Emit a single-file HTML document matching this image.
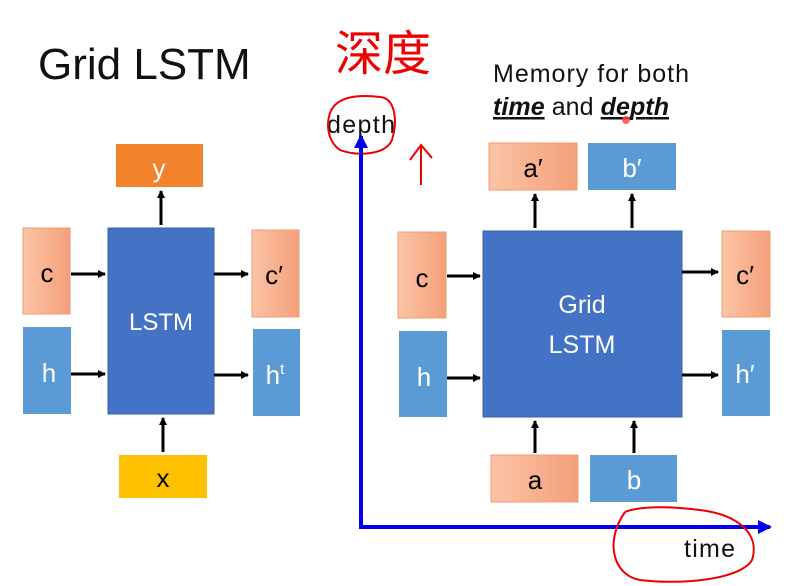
<!DOCTYPE html>
<html><head><style>body{margin:0;background:#fff}svg{display:block}</style></head><body>
<svg width="796" height="586" viewBox="0 0 796 586" xmlns="http://www.w3.org/2000/svg" font-family="Liberation Sans, sans-serif">
<defs>
<marker id="ar" markerWidth="8" markerHeight="8" refX="7" refY="4" orient="auto" markerUnits="userSpaceOnUse"><path d="M0,0 L8,4 L0,8 z" fill="#000"/></marker>
<marker id="bl" markerWidth="14" markerHeight="14" refX="12" refY="7" orient="auto" markerUnits="userSpaceOnUse"><path d="M0,0 L14,7 L0,14 z" fill="#0000ee"/></marker>
<linearGradient id="pk" x1="0" x2="1"><stop offset="0" stop-color="#fbc4a6"/><stop offset="1" stop-color="#f4a07a"/></linearGradient>
</defs>
<text x="38" y="79" font-size="44" fill="#111">Grid LSTM</text>
<!-- left -->
<rect x="116" y="144" width="87" height="43" fill="#f3822c"/>
<text x="159" y="177" font-size="26" fill="#fff" text-anchor="middle">y</text>
<rect x="108" y="228" width="106" height="186" fill="#4472c4" stroke="#3a62aa"/>
<text x="161" y="330" font-size="24" fill="#fff" text-anchor="middle">LSTM</text>
<rect x="23" y="228" width="47" height="86" fill="url(#pk)" stroke="#ed9c76"/>
<text x="47" y="282" font-size="26" text-anchor="middle">c</text>
<rect x="23" y="327" width="48" height="87" fill="#5b9bd5"/>
<text x="49" y="382" font-size="26" fill="#fff" text-anchor="middle">h</text>
<rect x="252" y="230" width="47" height="87" fill="url(#pk)" stroke="#ed9c76"/>
<text x="274" y="284" font-size="26" text-anchor="middle">c′</text>
<rect x="253" y="329" width="47" height="87" fill="#5b9bd5"/>
<text x="275" y="384" font-size="26" fill="#fff" text-anchor="middle">h<tspan font-size="15" dy="-10">t</tspan></text>
<rect x="119" y="455" width="88" height="43" fill="#ffc000"/>
<text x="163" y="487" font-size="26" text-anchor="middle">x</text>
<g stroke="#000" stroke-width="3">
<line x1="161" y1="225" x2="161" y2="191" marker-end="url(#ar)"/>
<line x1="163" y1="452" x2="163" y2="418" marker-end="url(#ar)"/>
<line x1="71" y1="274" x2="105" y2="274" marker-end="url(#ar)"/>
<line x1="71" y1="374" x2="105" y2="374" marker-end="url(#ar)"/>
<line x1="214" y1="274" x2="248" y2="274" marker-end="url(#ar)"/>
<line x1="214" y1="375" x2="248" y2="375" marker-end="url(#ar)"/>
</g>
<!-- right -->
<text x="493" y="82" font-size="25" fill="#111" textLength="196">Memory for both</text>
<text x="493" y="115" font-size="25" fill="#111" textLength="176"><tspan font-weight="bold" font-style="italic" text-decoration="underline">time</tspan> and <tspan font-weight="bold" font-style="italic" text-decoration="underline">depth</tspan></text>
<circle cx="626" cy="120" r="4" fill="#f44" opacity="0.8"/>
<text x="327" y="133" font-size="25" fill="#111" textLength="68">depth</text>
<path d="M335,105 C325,115 325,140 340,150 C355,156 385,156 392,140 C398,120 395,98 380,97 C365,95 345,95 335,105 Z" fill="none" stroke="#e00" stroke-width="2"/>
<text x="335" y="70" font-size="48" fill="#e00" font-family="Noto Sans CJK SC, sans-serif">深度</text>
<path d="M421,185 L421,145 M410,160 L421,145 L432,158" stroke="#e00" stroke-width="2" fill="none"/>
<line x1="361" y1="527" x2="361" y2="136" stroke="#0000ee" stroke-width="4" marker-end="url(#bl)"/>
<line x1="359" y1="527" x2="770" y2="527" stroke="#0000ee" stroke-width="4" marker-end="url(#bl)"/>
<text x="684" y="557" font-size="25" fill="#111" textLength="51">time</text>
<path d="M625,512 C605,540 612,575 640,580 C680,585 740,580 752,560 C760,535 740,515 700,510 C670,506 640,506 625,512" fill="none" stroke="#e00" stroke-width="2"/>
<rect x="489" y="143" width="88" height="47" fill="url(#pk)" stroke="#ed9c76"/>
<text x="533" y="177" font-size="26" text-anchor="middle">a′</text>
<rect x="588" y="143" width="88" height="47" fill="#5b9bd5"/>
<text x="632" y="177" font-size="26" fill="#fff" text-anchor="middle">b′</text>
<rect x="483" y="231" width="199" height="186" fill="#4472c4" stroke="#3a62aa"/>
<text x="582" y="313" font-size="25" fill="#fff" text-anchor="middle">Grid</text>
<text x="582" y="353" font-size="25" fill="#fff" text-anchor="middle">LSTM</text>
<rect x="398" y="232" width="48" height="86" fill="url(#pk)" stroke="#ed9c76"/>
<text x="422" y="287" font-size="26" text-anchor="middle">c</text>
<rect x="399" y="331" width="48" height="86" fill="#5b9bd5"/>
<text x="424" y="386" font-size="26" fill="#fff" text-anchor="middle">h</text>
<rect x="722" y="231" width="48" height="86" fill="url(#pk)" stroke="#ed9c76"/>
<text x="745" y="284" font-size="26" text-anchor="middle">c′</text>
<rect x="722" y="330" width="48" height="86" fill="#5b9bd5"/>
<text x="745" y="383" font-size="26" fill="#fff" text-anchor="middle">h′</text>
<rect x="491" y="455" width="87" height="47" fill="url(#pk)" stroke="#ed9c76"/>
<text x="535" y="489" font-size="26" text-anchor="middle">a</text>
<rect x="590" y="455" width="87" height="47" fill="#5b9bd5"/>
<text x="634" y="489" font-size="26" fill="#fff" text-anchor="middle">b</text>
<g stroke="#000" stroke-width="3">
<line x1="535" y1="228" x2="535" y2="194" marker-end="url(#ar)"/>
<line x1="632" y1="228" x2="632" y2="194" marker-end="url(#ar)"/>
<line x1="535" y1="453" x2="535" y2="421" marker-end="url(#ar)"/>
<line x1="634" y1="453" x2="634" y2="421" marker-end="url(#ar)"/>
<line x1="447" y1="276" x2="480" y2="276" marker-end="url(#ar)"/>
<line x1="447" y1="378" x2="480" y2="378" marker-end="url(#ar)"/>
<line x1="682" y1="272" x2="718" y2="272" marker-end="url(#ar)"/>
<line x1="682" y1="375" x2="718" y2="375" marker-end="url(#ar)"/>
</g>
</svg>
</body></html>
